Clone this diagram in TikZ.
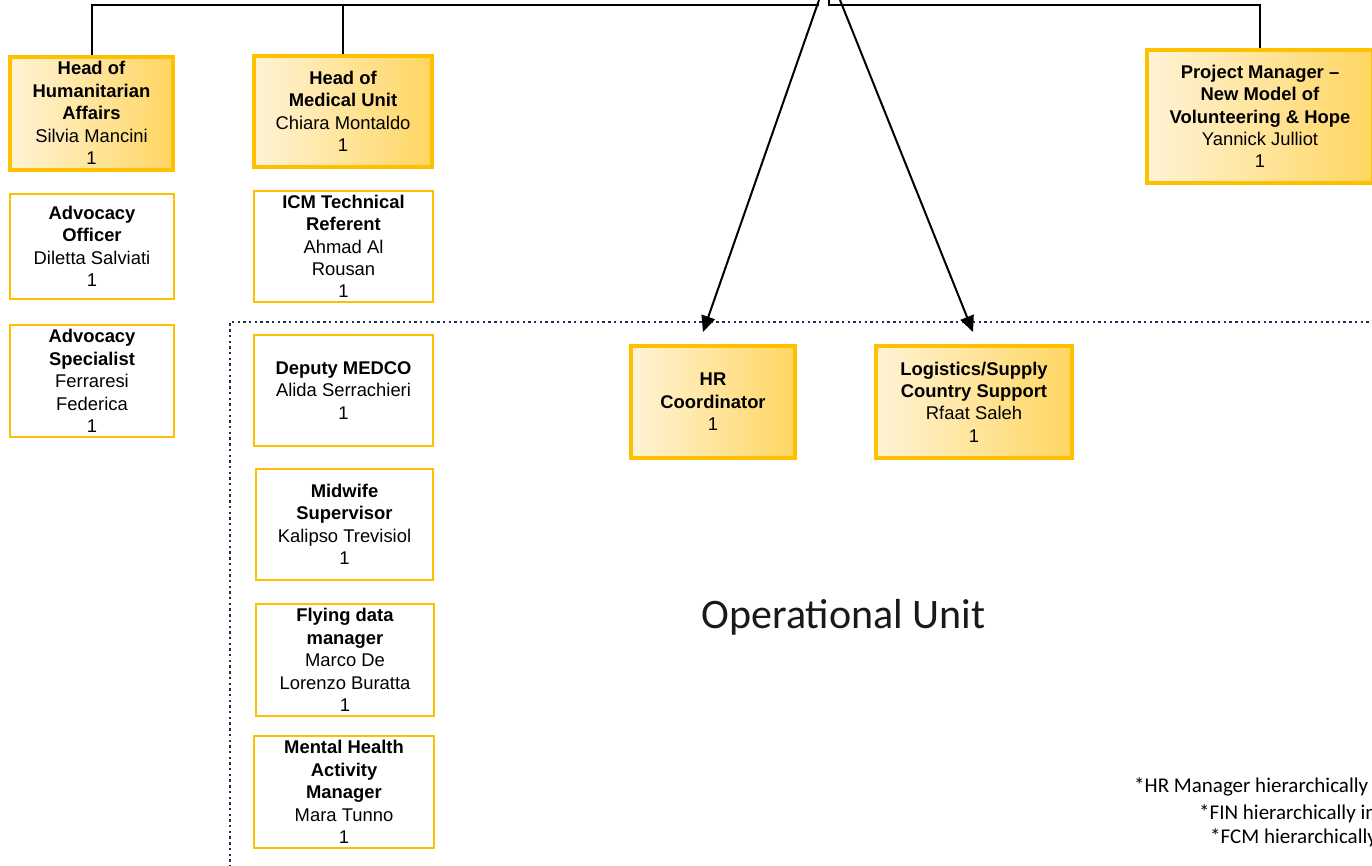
\documentclass[tikz,border=0pt]{standalone}
\usepackage{fontspec}
\setmainfont{Liberation Sans}
\newfontfamily\calib{Carlito}
\usetikzlibrary{arrows.meta}
\definecolor{gold}{RGB}{255,192,0}
\definecolor{gL}{RGB}{255,243,214}
\definecolor{gR}{RGB}{255,214,98}
\definecolor{navy}{RGB}{30,48,84}
\begin{document}
\begin{tikzpicture}[x=1pt,y=-1pt,
  boxtxt/.style={align=center, inner sep=0pt, font=\fontsize{18.4}{22.4}\selectfont, text=black},
  headbox/.style={boxtxt, draw=gold, line width=4pt, left color=gL, right color=gR},
  plainbox/.style={boxtxt, draw=gold, line width=2pt, fill=white},
  link/.style={draw=black, line width=2pt},
  arr/.style={link, -{Triangle[length=16pt,width=14pt]}},
  unitframe/.style={draw=navy, line width=2.4pt, dash pattern=on 2.4pt off 3.3pt},
  note/.style={font=\calib\fontsize{21}{25}\selectfont, inner sep=0pt, anchor=base west, text=black}]
\useasboundingbox (0,0) rectangle (1372,865);
\clip (0,0) rectangle (1372,865);

% head boxes
\node[headbox, minimum width=163pt, minimum height=113pt] (hha) at (91.5,113)
  {\textbf{Head of}\\\textbf{Humanitarian}\\\textbf{Affairs}\\Silvia Mancini\\1};
\node[headbox, minimum width=178pt, minimum height=111pt] (hmu) at (343,111.5)
  {\textbf{Head of}\\\textbf{Medical Unit}\\Chiara Montaldo\\1};
\node[headbox, minimum width=226pt, minimum height=133pt] (pm) at (1260,116.5)
  {\textbf{Project Manager --}\\\textbf{New Model of}\\\textbf{Volunteering \& Hope}\\Yannick Julliot\\1};
\node[headbox, minimum width=164pt, minimum height=112pt] (hr) at (713,402)
  {\textbf{HR}\\\textbf{Coordinator}\\1};
\node[headbox, minimum width=196pt, minimum height=112pt] (log) at (974,402)
  {\textbf{Logistics/Supply}\\\textbf{Country Support}\\Rfaat Saleh\\1};

% plain boxes
\node[plainbox, minimum width=164pt, minimum height=105pt] (ao) at (92,246.5)
  {\textbf{Advocacy}\\\textbf{Officer}\\Diletta Salviati\\1};
\node[plainbox, minimum width=164pt, minimum height=112pt] (as) at (92,381)
  {\textbf{Advocacy}\\\textbf{Specialist}\\Ferraresi\\Federica\\1};
\node[plainbox, minimum width=179pt, minimum height=111pt] (icm) at (343.5,246.5)
  {\textbf{ICM Technical}\\\textbf{Referent}\\Ahmad Al\\Rousan\\1};
\node[plainbox, minimum width=179pt, minimum height=111pt] (dm) at (343.5,390.5)
  {\textbf{Deputy MEDCO}\\Alida Serrachieri\\1};
\node[plainbox, minimum width=177pt, minimum height=111pt] (ms) at (344.5,524.5)
  {\textbf{Midwife}\\\textbf{Supervisor}\\Kalipso Trevisiol\\1};
\node[plainbox, minimum width=178pt, minimum height=112pt] (fdm) at (345,660)
  {\textbf{Flying data}\\\textbf{manager}\\Marco De\\Lorenzo Buratta\\1};
\node[plainbox, minimum width=180pt, minimum height=112pt] (mham) at (344,792)
  {\textbf{Mental Health}\\\textbf{Activity}\\\textbf{Manager}\\Mara Tunno\\1};

% connectors from the root (above the page)
\coordinate (rootL) at (819,5);
\coordinate (rootR) at (829,0);
\draw[link] (hha.north) |- (rootL);
\draw[link] (hmu.north) -- (hmu.north |- rootL);
\draw[link] (rootR) -- ++(0,5) -| (pm.north);

% operational unit frame
\coordinate (fr1) at (1380,322);
\coordinate (fr2) at (230,322);
\coordinate (fr3) at (230,870);
\draw[unitframe] (fr1) -- (fr2) -- (fr3);

% arrows to the operational unit
\coordinate (a1s) at (819,0);
\coordinate (a1e) at (703,332);
\coordinate (a2s) at (840,0);
\coordinate (a2e) at (973,332);
\draw[arr] (a1s) -- (a1e);
\draw[arr] (a2s) -- (a2e);

\node[font=\calib\fontsize{42}{50}\selectfont, anchor=base, inner sep=0pt, text=black!90] (ou) at (843.5,628) {Operational Unit};

\node[note] (n1) at (1134,792) {*HR Manager hierarchically};
\node[note] (n2) at (1199,819) {*FIN hierarchically in};
\node[note] (n3) at (1210,843) {*FCM hierarchically};
\end{tikzpicture}
\end{document}
